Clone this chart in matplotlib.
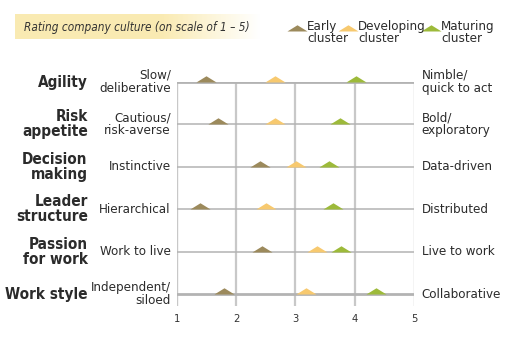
import matplotlib.pyplot as plt
import numpy as np

plt.rcParams['font.family'] = ['DejaVu Sans']
plt.rcParams['font.stretch'] = 'condensed'

# data (scale 1 - 5)
categories = ["Agility", "Risk\nappetite", "Decision\nmaking", "Leader\nstructure",
              "Passion\nfor work", "Work style"]
low_labels = ["Slow/\ndeliberative", "Cautious/\nrisk-averse", "Instinctive",
              "Hierarchical", "Work to live", "Independent/\nsiloed"]
high_labels = ["Nimble/\nquick to act", "Bold/\nexploratory", "Data-driven",
               "Distributed", "Live to work", "Collaborative"]
early = [1.49, 1.69, 2.40, 1.40, 2.44, 1.80]
developing = [2.66, 2.65, 3.01, 2.50, 3.37, 3.18]
maturing = [4.02, 3.76, 3.56, 3.64, 3.77, 4.36]
ticks = [1, 2, 3, 4, 5]

series = [("Early\ncluster", early, "#9c8a5c"),
          ("Developing\ncluster", developing, "#f7c96f"),
          ("Maturing\ncluster", maturing, "#9dba3a")]

tri = [(-1, 0), (1, 0), (0, 0.62), (-1, 0)]  # flat triangle, base on the point

fig = plt.figure(figsize=(5.2, 3.53), dpi=100)
W, H = 520, 353
ax = fig.add_axes([176.7 / W, 1 - 306 / H, (414 - 176.7) / W, (306 - 82) / H])
rows = np.arange(len(categories))
ax.set_xlim(1, 5)
ax.set_ylim(5.283, 0)
for s in ax.spines.values():
    s.set_visible(False)
ax.set_yticks([])
ax.set_xticks(ticks)
ax.set_xticklabels([str(t) for t in ticks], fontsize=8, color="#333333")
ax.tick_params(axis="x", length=0, pad=6)

# grid
for t in ticks:
    lw = 1.6 if t in (2, 3, 4) else 1.0
    ax.axvline(t, color="#c8c8c8", lw=lw, zorder=1)
for r in rows:
    lw = 2.0 if r in (0, len(rows) - 1) else 1.1
    ax.axhline(r, color="#b3b3b3", lw=lw, zorder=2)

for name, vals, col in series:
    ax.plot(vals, rows, linestyle="none", marker=tri, markersize=14.5,
            color=col, markeredgewidth=0, zorder=3, clip_on=False)

for r in rows:
    ax.text(-0.5, r, categories[r], ha="right", va="center", fontsize=11,
            fontweight="bold", color="#2b2b2b", linespacing=1.0)
    ax.text(0.9, r, low_labels[r], ha="right", va="center", fontsize=9.5,
            color="#2b2b2b", linespacing=1.0)
    ax.text(5.13, r, high_labels[r], ha="left", va="center", fontsize=9.5,
            color="#2b2b2b", linespacing=1.0)

# title box with soft gradient
bax = fig.add_axes([15 / W, 1 - 39 / H, 245 / W, 25 / H])
grad = np.linspace(0, 1, 256)
cmap_cols = np.zeros((1, 256, 3))
start = np.array([0.98, 0.92, 0.70])
end = np.array([1.0, 1.0, 1.0])
for i, g in enumerate(grad):
    w = max(0, (g - 0.6) / 0.4)
    cmap_cols[0, i] = start * (1 - w) + end * w
bax.imshow(cmap_cols, aspect="auto", extent=[0, 1, 0, 1])
bax.axis("off")
fig.text(24 / W, 1 - 27 / H, "Rating company culture (on scale of 1 \u2013 5)",
         ha="left", va="center", fontsize=8.5, style="italic", color="#333333")

# legend
leg_x = [297, 348, 431]
for (name, vals, col), lx in zip(series, leg_x):
    fig.add_artist(plt.Line2D([lx / W], [1 - 31 / H], marker=tri, markersize=14.5,
                              color=col, markeredgewidth=0, linestyle="none",
                              transform=fig.transFigure))
    fig.text((lx + 10) / W, 1 - 20 / H, name, ha="left", va="top", fontsize=9.5,
             color="#2b2b2b", linespacing=0.95)

fig.savefig("out.png", dpi=100)
